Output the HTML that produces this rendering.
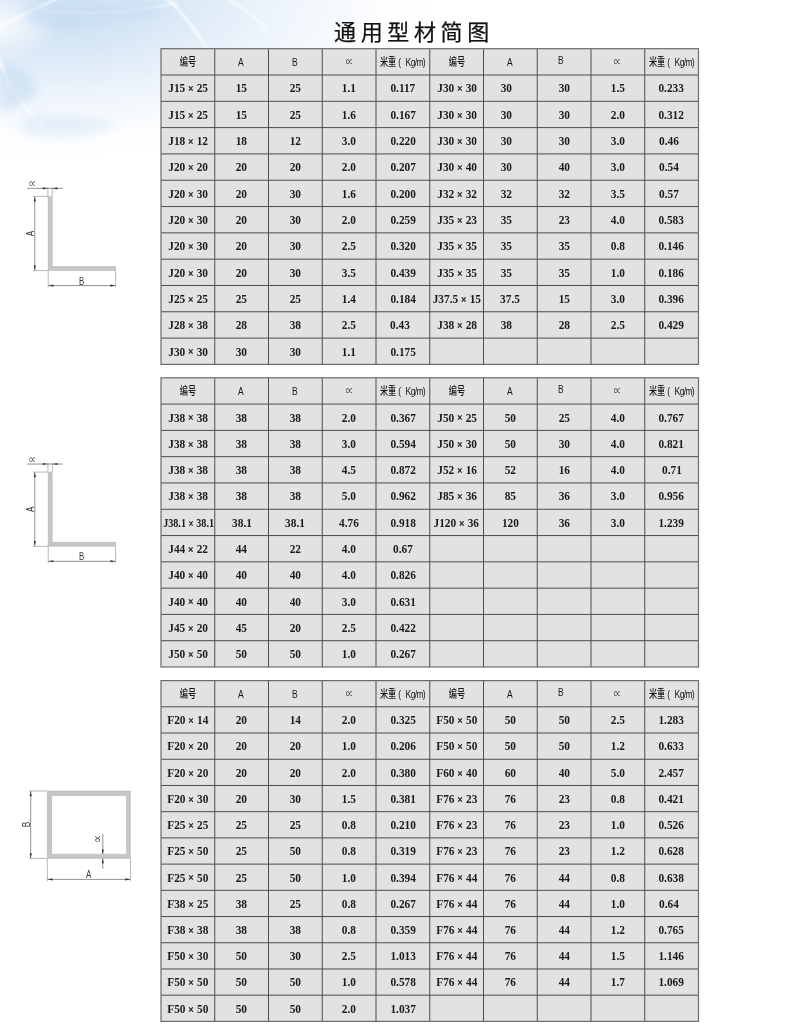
<!DOCTYPE html>
<html lang="zh-CN">
<head>
<meta charset="utf-8">
<title>通用型材简图</title>
<style>
html,body{margin:0;padding:0}
body{width:800px;height:1025px;position:relative;overflow:hidden;background:#fff;font-family:"Liberation Sans","Noto Sans CJK SC",sans-serif}
#bg{position:absolute;left:0;top:0;width:800px;height:1025px;
background:
radial-gradient(ellipse 60px 40px at 0px 24px, rgba(255,255,255,.85) 0%, rgba(255,255,255,0) 100%),
radial-gradient(ellipse 400px 160px at 40px 0px, rgba(205,224,243,1) 0%, rgba(213,229,245,.95) 30%, rgba(230,240,250,.7) 60%, rgba(244,248,253,.4) 82%, rgba(255,255,255,0) 100%);}
#g{position:absolute;left:0;top:0}
h1{position:absolute;left:334px;top:16.5px;margin:0;font-weight:400;font-size:22px;line-height:32px;letter-spacing:4.65px;color:#111;-webkit-text-stroke:.25px #111;white-space:nowrap;font-family:"Liberation Sans","Noto Sans CJK SC",sans-serif}
.c{position:absolute;display:flex;justify-content:center;white-space:nowrap;color:#1a1a1a}
.c span{display:block;position:relative;flex:none}
.d{font-family:"Liberation Serif","Noto Serif CJK SC",serif;font-weight:700;font-size:12.6px}
.d span{transform:scaleX(0.9)}
.d i{font-style:normal;font-size:10.8px;white-space:pre;letter-spacing:.4px;position:relative;top:-.1px;-webkit-text-stroke:.35px #1a1a1a}
.h{font-family:"Liberation Sans","Noto Sans CJK SC",sans-serif;font-size:11.5px;color:#161616;font-weight:500}
.h span{transform:scaleX(0.74)}
.h b{font-weight:500;font-size:11px}
.h u{text-decoration:none;white-space:pre;letter-spacing:-.4px}
.h em{font-style:normal;letter-spacing:-.9px;margin-left:6.5px}
.al{font-size:11px;color:#333;font-weight:400}
.al span{transform:scaleX(.68)}
.ft{font-family:"Liberation Sans","Noto Sans CJK SC",sans-serif;fill:#3a3a3a}
</style>
</head>
<body>
<div id="bg"></div>
<svg id="g" width="800" height="1025" viewBox="0 0 800 1025">
<defs><filter id="bl" x="-20%" y="-20%" width="140%" height="140%"><feGaussianBlur stdDeviation="1.1"/></filter><filter id="bl2" x="-30%" y="-30%" width="160%" height="160%"><feGaussianBlur stdDeviation="4"/></filter></defs>
<g filter="url(#bl)" fill="none" stroke="#fff" stroke-linecap="round">
<path d="M-5 50C8 88 32 122 66 146" stroke-width="3" opacity=".8"/>
<path d="M64 -5C38 8 14 18 -5 30" stroke-width="3" opacity=".7"/>
<path d="M40 10C82 16 130 13 178 3" stroke-width="2" opacity=".6"/>
<path d="M166 -3C184 14 198 32 208 52" stroke-width="2.6" opacity=".75"/>
<path d="M226 -3C244 8 258 19 268 31" stroke-width="2.2" opacity=".65"/>
<path d="M-3 128C36 136 80 138 124 135" stroke-width="2" opacity=".5"/>
<path d="M-3 60C6 70 10 84 6 98" stroke-width="5" opacity=".45"/>
</g>
<g filter="url(#bl2)" fill="#c6dcf2" opacity=".6">
<path d="M22 8C40 2 70 6 96 4C120 6 150 2 162 8C150 20 120 18 100 26C80 34 50 30 34 24Z"/>
<path d="M0 66C14 64 30 74 38 88C30 104 10 112 0 108Z"/><path d="M20 118C50 112 90 116 118 124C100 138 50 140 24 134Z" opacity=".6"/>
</g>
<rect x="161" y="48.7" width="537.5" height="315.7" fill="#e2e2e2"/>
<path d="M161 75.01H698.5M161 101.32H698.5M161 127.62H698.5M161 153.93H698.5M161 180.24H698.5M161 206.55H698.5M161 232.86H698.5M161 259.17H698.5M161 285.48H698.5M161 311.78H698.5M161 338.09H698.5M214.75 48.7V364.4M268.5 48.7V364.4M322.25 48.7V364.4M376 48.7V364.4M429.75 48.7V364.4M483.5 48.7V364.4M537.25 48.7V364.4M591 48.7V364.4M644.75 48.7V364.4" stroke="#4c4c4c" stroke-width="1.0" fill="none"/>
<rect x="161" y="48.7" width="537.5" height="315.7" fill="none" stroke="#6c6c6c" stroke-width="1.2"/>
<rect x="161" y="377.8" width="537.5" height="289.2" fill="#e2e2e2"/>
<path d="M161 404.09H698.5M161 430.38H698.5M161 456.67H698.5M161 482.96H698.5M161 509.25H698.5M161 535.55H698.5M161 561.84H698.5M161 588.13H698.5M161 614.42H698.5M161 640.71H698.5M214.75 377.8V667M268.5 377.8V667M322.25 377.8V667M376 377.8V667M429.75 377.8V667M483.5 377.8V667M537.25 377.8V667M591 377.8V667M644.75 377.8V667" stroke="#4c4c4c" stroke-width="1.0" fill="none"/>
<rect x="161" y="377.8" width="537.5" height="289.2" fill="none" stroke="#6c6c6c" stroke-width="1.2"/>
<rect x="161" y="680.6" width="537.5" height="340.8" fill="#e2e2e2"/>
<path d="M161 706.82H698.5M161 733.03H698.5M161 759.25H698.5M161 785.46H698.5M161 811.68H698.5M161 837.89H698.5M161 864.11H698.5M161 890.32H698.5M161 916.54H698.5M161 942.75H698.5M161 968.97H698.5M161 995.18H698.5M214.75 680.6V1021.4M268.5 680.6V1021.4M322.25 680.6V1021.4M376 680.6V1021.4M429.75 680.6V1021.4M483.5 680.6V1021.4M537.25 680.6V1021.4M591 680.6V1021.4M644.75 680.6V1021.4" stroke="#4c4c4c" stroke-width="1.0" fill="none"/>
<rect x="161" y="680.6" width="537.5" height="340.8" fill="none" stroke="#6c6c6c" stroke-width="1.2"/>
<path d="M48.2 196.4 H52.2 V266.6 H115.6 V270.6 H48.2 Z" fill="#c6c6c6" stroke="#adadad" stroke-width="0.5"/><path d="M47.9 187.2V196.2M52.3 187.2V196.2M33 196.4H48M33 270.6H48M48.2 270.8V287.2M115.6 270.8V287.2" stroke="#9a9a9a" stroke-width="0.7" fill="none"/><path d="M27.2 188.35H62.8M34.8 196.6V270.4M48.4 285.6H115.4" stroke="#555" stroke-width="0.65" fill="none"/><path d="M47.6 188.35L42.8 187.3L42.8 189.4ZM52.7 188.35L57.5 187.3L57.5 189.4ZM34.8 196.6L33.75 201.6L35.85 201.6ZM34.8 270.4L33.75 265.4L35.85 265.4ZM48.4 285.6L53.4 284.55L53.4 286.65ZM115.4 285.6L110.4 284.55L110.4 286.65Z" fill="#333"/><text class="ft" transform="translate(32.6 188.3) scale(0.62 1)" font-size="11" text-anchor="middle">∝</text><text class="ft" transform="translate(34 233.6) rotate(-90) scale(0.72 1)" font-size="11.4" text-anchor="middle">A</text><text class="ft" transform="translate(81.7 284.5) scale(0.68 1)" font-size="11.6" text-anchor="middle">B</text>
<path d="M48.2 472.1 H52.2 V542.3 H115.6 V546.3 H48.2 Z" fill="#c6c6c6" stroke="#adadad" stroke-width="0.5"/><path d="M47.9 462.9V471.9M52.3 462.9V471.9M33 472.1H48M33 546.3H48M48.2 546.5V562.9M115.6 546.5V562.9" stroke="#9a9a9a" stroke-width="0.7" fill="none"/><path d="M27.2 464.05H62.8M34.8 472.3V546.1M48.4 561.3H115.4" stroke="#555" stroke-width="0.65" fill="none"/><path d="M47.6 464.05L42.8 463L42.8 465.1ZM52.7 464.05L57.5 463L57.5 465.1ZM34.8 472.3L33.75 477.3L35.85 477.3ZM34.8 546.1L33.75 541.1L35.85 541.1ZM48.4 561.3L53.4 560.25L53.4 562.35ZM115.4 561.3L110.4 560.25L110.4 562.35Z" fill="#333"/><text class="ft" transform="translate(32.6 464) scale(0.62 1)" font-size="11" text-anchor="middle">∝</text><text class="ft" transform="translate(34 509.3) rotate(-90) scale(0.72 1)" font-size="11.4" text-anchor="middle">A</text><text class="ft" transform="translate(81.7 560.2) scale(0.68 1)" font-size="11.6" text-anchor="middle">B</text>
<path d="M47.3 791H130.4V858.4H47.3ZM51.6 795.4V854.2H126.6V795.4Z" fill="#c6c6c6" fill-rule="evenodd" stroke="#adadad" stroke-width="0.5"/><path d="M29 791H47M29 858.4H47M47.3 858.6V881.2M130.5 858.6V881.2" stroke="#9a9a9a" stroke-width="0.7" fill="none"/><path d="M30.7 791.2V858.2M47.5 879.4H130.3M102.8 833.9V854M102.8 858.6V868.9" stroke="#555" stroke-width="0.65" fill="none"/><path d="M30.7 791.2L29.65 796.2L31.75 796.2ZM30.7 858.2L29.65 853.2L31.75 853.2ZM47.5 879.4L52.5 878.35L52.5 880.45ZM130.3 879.4L125.3 878.35L125.3 880.45ZM102.8 854.2L101.75 849.4L103.85 849.4ZM102.8 858.4L101.75 863.2L103.85 863.2Z" fill="#333"/><text class="ft" transform="translate(29.8 824.6) rotate(-90) scale(0.72 1)" font-size="11.4" text-anchor="middle">B</text><text class="ft" transform="translate(88.6 878.2) scale(0.7 1)" font-size="11.4" text-anchor="middle">A</text><text class="ft" transform="translate(101.8 838.4) rotate(-90) scale(0.62 1)" font-size="11" text-anchor="middle">∝</text>
</svg>
<h1>通用型材简图</h1>
<div class="c h" style="left:161px;top:49.2px;width:53.75px;height:26.31px;line-height:26.31px"><span style=""><b>编号</b></span></div>
<div class="c h" style="left:214.75px;top:49.2px;width:53.75px;height:26.31px;line-height:26.31px"><span style="left:-.4px;">A</span></div>
<div class="c h" style="left:268.5px;top:49.2px;width:53.75px;height:26.31px;line-height:26.31px"><span style="left:-.8px;">B</span></div>
<div class="c h al" style="left:322.25px;top:49.2px;width:53.75px;height:26.31px;line-height:26.31px"><span style="">∝</span></div>
<div class="c h" style="left:376px;top:49.2px;width:53.75px;height:26.31px;line-height:26.31px"><span style=""><b>米重</b><u> (</u><em>Kg/m)</em></span></div>
<div class="c d" style="left:161px;top:75.46px;width:53.75px;height:26.31px;line-height:26.31px"><span style="">J15<i> × </i>25</span></div>
<div class="c d" style="left:214.75px;top:75.46px;width:53.75px;height:26.31px;line-height:26.31px"><span style="">15</span></div>
<div class="c d" style="left:268.5px;top:75.46px;width:53.75px;height:26.31px;line-height:26.31px"><span style="">25</span></div>
<div class="c d" style="left:322.25px;top:75.46px;width:53.75px;height:26.31px;line-height:26.31px"><span style="">1.1</span></div>
<div class="c d" style="left:376px;top:75.46px;width:53.75px;height:26.31px;line-height:26.31px"><span style="">0.117</span></div>
<div class="c d" style="left:161px;top:101.77px;width:53.75px;height:26.31px;line-height:26.31px"><span style="">J15<i> × </i>25</span></div>
<div class="c d" style="left:214.75px;top:101.77px;width:53.75px;height:26.31px;line-height:26.31px"><span style="">15</span></div>
<div class="c d" style="left:268.5px;top:101.77px;width:53.75px;height:26.31px;line-height:26.31px"><span style="">25</span></div>
<div class="c d" style="left:322.25px;top:101.77px;width:53.75px;height:26.31px;line-height:26.31px"><span style="">1.6</span></div>
<div class="c d" style="left:376px;top:101.77px;width:53.75px;height:26.31px;line-height:26.31px"><span style="">0.167</span></div>
<div class="c d" style="left:161px;top:128.07px;width:53.75px;height:26.31px;line-height:26.31px"><span style="">J18<i> × </i>12</span></div>
<div class="c d" style="left:214.75px;top:128.07px;width:53.75px;height:26.31px;line-height:26.31px"><span style="">18</span></div>
<div class="c d" style="left:268.5px;top:128.07px;width:53.75px;height:26.31px;line-height:26.31px"><span style="">12</span></div>
<div class="c d" style="left:322.25px;top:128.07px;width:53.75px;height:26.31px;line-height:26.31px"><span style="">3.0</span></div>
<div class="c d" style="left:376px;top:128.07px;width:53.75px;height:26.31px;line-height:26.31px"><span style="">0.220</span></div>
<div class="c d" style="left:161px;top:154.38px;width:53.75px;height:26.31px;line-height:26.31px"><span style="">J20<i> × </i>20</span></div>
<div class="c d" style="left:214.75px;top:154.38px;width:53.75px;height:26.31px;line-height:26.31px"><span style="">20</span></div>
<div class="c d" style="left:268.5px;top:154.38px;width:53.75px;height:26.31px;line-height:26.31px"><span style="">20</span></div>
<div class="c d" style="left:322.25px;top:154.38px;width:53.75px;height:26.31px;line-height:26.31px"><span style="">2.0</span></div>
<div class="c d" style="left:376px;top:154.38px;width:53.75px;height:26.31px;line-height:26.31px"><span style="">0.207</span></div>
<div class="c d" style="left:161px;top:180.69px;width:53.75px;height:26.31px;line-height:26.31px"><span style="">J20<i> × </i>30</span></div>
<div class="c d" style="left:214.75px;top:180.69px;width:53.75px;height:26.31px;line-height:26.31px"><span style="">20</span></div>
<div class="c d" style="left:268.5px;top:180.69px;width:53.75px;height:26.31px;line-height:26.31px"><span style="">30</span></div>
<div class="c d" style="left:322.25px;top:180.69px;width:53.75px;height:26.31px;line-height:26.31px"><span style="">1.6</span></div>
<div class="c d" style="left:376px;top:180.69px;width:53.75px;height:26.31px;line-height:26.31px"><span style="">0.200</span></div>
<div class="c d" style="left:161px;top:207px;width:53.75px;height:26.31px;line-height:26.31px"><span style="">J20<i> × </i>30</span></div>
<div class="c d" style="left:214.75px;top:207px;width:53.75px;height:26.31px;line-height:26.31px"><span style="">20</span></div>
<div class="c d" style="left:268.5px;top:207px;width:53.75px;height:26.31px;line-height:26.31px"><span style="">30</span></div>
<div class="c d" style="left:322.25px;top:207px;width:53.75px;height:26.31px;line-height:26.31px"><span style="">2.0</span></div>
<div class="c d" style="left:376px;top:207px;width:53.75px;height:26.31px;line-height:26.31px"><span style="">0.259</span></div>
<div class="c d" style="left:161px;top:233.31px;width:53.75px;height:26.31px;line-height:26.31px"><span style="">J20<i> × </i>30</span></div>
<div class="c d" style="left:214.75px;top:233.31px;width:53.75px;height:26.31px;line-height:26.31px"><span style="">20</span></div>
<div class="c d" style="left:268.5px;top:233.31px;width:53.75px;height:26.31px;line-height:26.31px"><span style="">30</span></div>
<div class="c d" style="left:322.25px;top:233.31px;width:53.75px;height:26.31px;line-height:26.31px"><span style="">2.5</span></div>
<div class="c d" style="left:376px;top:233.31px;width:53.75px;height:26.31px;line-height:26.31px"><span style="">0.320</span></div>
<div class="c d" style="left:161px;top:259.62px;width:53.75px;height:26.31px;line-height:26.31px"><span style="">J20<i> × </i>30</span></div>
<div class="c d" style="left:214.75px;top:259.62px;width:53.75px;height:26.31px;line-height:26.31px"><span style="">20</span></div>
<div class="c d" style="left:268.5px;top:259.62px;width:53.75px;height:26.31px;line-height:26.31px"><span style="">30</span></div>
<div class="c d" style="left:322.25px;top:259.62px;width:53.75px;height:26.31px;line-height:26.31px"><span style="">3.5</span></div>
<div class="c d" style="left:376px;top:259.62px;width:53.75px;height:26.31px;line-height:26.31px"><span style="">0.439</span></div>
<div class="c d" style="left:161px;top:285.93px;width:53.75px;height:26.31px;line-height:26.31px"><span style="">J25<i> × </i>25</span></div>
<div class="c d" style="left:214.75px;top:285.93px;width:53.75px;height:26.31px;line-height:26.31px"><span style="">25</span></div>
<div class="c d" style="left:268.5px;top:285.93px;width:53.75px;height:26.31px;line-height:26.31px"><span style="">25</span></div>
<div class="c d" style="left:322.25px;top:285.93px;width:53.75px;height:26.31px;line-height:26.31px"><span style="">1.4</span></div>
<div class="c d" style="left:376px;top:285.93px;width:53.75px;height:26.31px;line-height:26.31px"><span style="">0.184</span></div>
<div class="c d" style="left:161px;top:312.23px;width:53.75px;height:26.31px;line-height:26.31px"><span style="">J28<i> × </i>38</span></div>
<div class="c d" style="left:214.75px;top:312.23px;width:53.75px;height:26.31px;line-height:26.31px"><span style="">28</span></div>
<div class="c d" style="left:268.5px;top:312.23px;width:53.75px;height:26.31px;line-height:26.31px"><span style="">38</span></div>
<div class="c d" style="left:322.25px;top:312.23px;width:53.75px;height:26.31px;line-height:26.31px"><span style="">2.5</span></div>
<div class="c d" style="left:376px;top:312.23px;width:53.75px;height:26.31px;line-height:26.31px"><span style="left:-2.9px;">0.43</span></div>
<div class="c d" style="left:161px;top:338.54px;width:53.75px;height:26.31px;line-height:26.31px"><span style="">J30<i> × </i>30</span></div>
<div class="c d" style="left:214.75px;top:338.54px;width:53.75px;height:26.31px;line-height:26.31px"><span style="">30</span></div>
<div class="c d" style="left:268.5px;top:338.54px;width:53.75px;height:26.31px;line-height:26.31px"><span style="">30</span></div>
<div class="c d" style="left:322.25px;top:338.54px;width:53.75px;height:26.31px;line-height:26.31px"><span style="">1.1</span></div>
<div class="c d" style="left:376px;top:338.54px;width:53.75px;height:26.31px;line-height:26.31px"><span style="">0.175</span></div>
<div class="c h" style="left:429.75px;top:49.2px;width:53.75px;height:26.31px;line-height:26.31px"><span style=""><b>编号</b></span></div>
<div class="c h" style="left:483.5px;top:49.2px;width:53.75px;height:26.31px;line-height:26.31px"><span style="left:-.4px;">A</span></div>
<div class="c h" style="left:537.25px;top:47.2px;width:53.75px;height:26.31px;line-height:26.31px"><span style="left:-3.4px;">B</span></div>
<div class="c h al" style="left:591px;top:49.2px;width:53.75px;height:26.31px;line-height:26.31px"><span style="">∝</span></div>
<div class="c h" style="left:644.75px;top:49.2px;width:53.75px;height:26.31px;line-height:26.31px"><span style=""><b>米重</b><u> (</u><em>Kg/m)</em></span></div>
<div class="c d" style="left:429.75px;top:75.46px;width:53.75px;height:26.31px;line-height:26.31px"><span style="">J30<i> × </i>30</span></div>
<div class="c d" style="left:483.5px;top:75.46px;width:53.75px;height:26.31px;line-height:26.31px"><span style="left:-4.5px;">30</span></div>
<div class="c d" style="left:537.25px;top:75.46px;width:53.75px;height:26.31px;line-height:26.31px"><span style="">30</span></div>
<div class="c d" style="left:591px;top:75.46px;width:53.75px;height:26.31px;line-height:26.31px"><span style="">1.5</span></div>
<div class="c d" style="left:644.75px;top:75.46px;width:53.75px;height:26.31px;line-height:26.31px"><span style="">0.233</span></div>
<div class="c d" style="left:429.75px;top:101.77px;width:53.75px;height:26.31px;line-height:26.31px"><span style="">J30<i> × </i>30</span></div>
<div class="c d" style="left:483.5px;top:101.77px;width:53.75px;height:26.31px;line-height:26.31px"><span style="left:-4.5px;">30</span></div>
<div class="c d" style="left:537.25px;top:101.77px;width:53.75px;height:26.31px;line-height:26.31px"><span style="">30</span></div>
<div class="c d" style="left:591px;top:101.77px;width:53.75px;height:26.31px;line-height:26.31px"><span style="">2.0</span></div>
<div class="c d" style="left:644.75px;top:101.77px;width:53.75px;height:26.31px;line-height:26.31px"><span style="">0.312</span></div>
<div class="c d" style="left:429.75px;top:128.07px;width:53.75px;height:26.31px;line-height:26.31px"><span style="">J30<i> × </i>30</span></div>
<div class="c d" style="left:483.5px;top:128.07px;width:53.75px;height:26.31px;line-height:26.31px"><span style="left:-4.5px;">30</span></div>
<div class="c d" style="left:537.25px;top:128.07px;width:53.75px;height:26.31px;line-height:26.31px"><span style="">30</span></div>
<div class="c d" style="left:591px;top:128.07px;width:53.75px;height:26.31px;line-height:26.31px"><span style="">3.0</span></div>
<div class="c d" style="left:644.75px;top:128.07px;width:53.75px;height:26.31px;line-height:26.31px"><span style="left:-2.9px;">0.46</span></div>
<div class="c d" style="left:429.75px;top:154.38px;width:53.75px;height:26.31px;line-height:26.31px"><span style="">J30<i> × </i>40</span></div>
<div class="c d" style="left:483.5px;top:154.38px;width:53.75px;height:26.31px;line-height:26.31px"><span style="left:-4.5px;">30</span></div>
<div class="c d" style="left:537.25px;top:154.38px;width:53.75px;height:26.31px;line-height:26.31px"><span style="">40</span></div>
<div class="c d" style="left:591px;top:154.38px;width:53.75px;height:26.31px;line-height:26.31px"><span style="">3.0</span></div>
<div class="c d" style="left:644.75px;top:154.38px;width:53.75px;height:26.31px;line-height:26.31px"><span style="left:-2.9px;">0.54</span></div>
<div class="c d" style="left:429.75px;top:180.69px;width:53.75px;height:26.31px;line-height:26.31px"><span style="">J32<i> × </i>32</span></div>
<div class="c d" style="left:483.5px;top:180.69px;width:53.75px;height:26.31px;line-height:26.31px"><span style="left:-4.5px;">32</span></div>
<div class="c d" style="left:537.25px;top:180.69px;width:53.75px;height:26.31px;line-height:26.31px"><span style="">32</span></div>
<div class="c d" style="left:591px;top:180.69px;width:53.75px;height:26.31px;line-height:26.31px"><span style="">3.5</span></div>
<div class="c d" style="left:644.75px;top:180.69px;width:53.75px;height:26.31px;line-height:26.31px"><span style="left:-2.9px;">0.57</span></div>
<div class="c d" style="left:429.75px;top:207px;width:53.75px;height:26.31px;line-height:26.31px"><span style="">J35<i> × </i>23</span></div>
<div class="c d" style="left:483.5px;top:207px;width:53.75px;height:26.31px;line-height:26.31px"><span style="left:-4.5px;">35</span></div>
<div class="c d" style="left:537.25px;top:207px;width:53.75px;height:26.31px;line-height:26.31px"><span style="">23</span></div>
<div class="c d" style="left:591px;top:207px;width:53.75px;height:26.31px;line-height:26.31px"><span style="">4.0</span></div>
<div class="c d" style="left:644.75px;top:207px;width:53.75px;height:26.31px;line-height:26.31px"><span style="">0.583</span></div>
<div class="c d" style="left:429.75px;top:233.31px;width:53.75px;height:26.31px;line-height:26.31px"><span style="">J35<i> × </i>35</span></div>
<div class="c d" style="left:483.5px;top:233.31px;width:53.75px;height:26.31px;line-height:26.31px"><span style="left:-4.5px;">35</span></div>
<div class="c d" style="left:537.25px;top:233.31px;width:53.75px;height:26.31px;line-height:26.31px"><span style="">35</span></div>
<div class="c d" style="left:591px;top:233.31px;width:53.75px;height:26.31px;line-height:26.31px"><span style="">0.8</span></div>
<div class="c d" style="left:644.75px;top:233.31px;width:53.75px;height:26.31px;line-height:26.31px"><span style="">0.146</span></div>
<div class="c d" style="left:429.75px;top:259.62px;width:53.75px;height:26.31px;line-height:26.31px"><span style="">J35<i> × </i>35</span></div>
<div class="c d" style="left:483.5px;top:259.62px;width:53.75px;height:26.31px;line-height:26.31px"><span style="left:-4.5px;">35</span></div>
<div class="c d" style="left:537.25px;top:259.62px;width:53.75px;height:26.31px;line-height:26.31px"><span style="">35</span></div>
<div class="c d" style="left:591px;top:259.62px;width:53.75px;height:26.31px;line-height:26.31px"><span style="">1.0</span></div>
<div class="c d" style="left:644.75px;top:259.62px;width:53.75px;height:26.31px;line-height:26.31px"><span style="">0.186</span></div>
<div class="c d" style="left:429.75px;top:285.93px;width:53.75px;height:26.31px;line-height:26.31px"><span style="">J37.5<i> × </i>15</span></div>
<div class="c d" style="left:483.5px;top:285.93px;width:53.75px;height:26.31px;line-height:26.31px"><span style="">37.5</span></div>
<div class="c d" style="left:537.25px;top:285.93px;width:53.75px;height:26.31px;line-height:26.31px"><span style="">15</span></div>
<div class="c d" style="left:591px;top:285.93px;width:53.75px;height:26.31px;line-height:26.31px"><span style="">3.0</span></div>
<div class="c d" style="left:644.75px;top:285.93px;width:53.75px;height:26.31px;line-height:26.31px"><span style="">0.396</span></div>
<div class="c d" style="left:429.75px;top:312.23px;width:53.75px;height:26.31px;line-height:26.31px"><span style="">J38<i> × </i>28</span></div>
<div class="c d" style="left:483.5px;top:312.23px;width:53.75px;height:26.31px;line-height:26.31px"><span style="left:-4.5px;">38</span></div>
<div class="c d" style="left:537.25px;top:312.23px;width:53.75px;height:26.31px;line-height:26.31px"><span style="">28</span></div>
<div class="c d" style="left:591px;top:312.23px;width:53.75px;height:26.31px;line-height:26.31px"><span style="">2.5</span></div>
<div class="c d" style="left:644.75px;top:312.23px;width:53.75px;height:26.31px;line-height:26.31px"><span style="">0.429</span></div>
<div class="c h" style="left:161px;top:378.3px;width:53.75px;height:26.29px;line-height:26.29px"><span style=""><b>编号</b></span></div>
<div class="c h" style="left:214.75px;top:378.3px;width:53.75px;height:26.29px;line-height:26.29px"><span style="left:-.4px;">A</span></div>
<div class="c h" style="left:268.5px;top:378.3px;width:53.75px;height:26.29px;line-height:26.29px"><span style="left:-.8px;">B</span></div>
<div class="c h al" style="left:322.25px;top:378.3px;width:53.75px;height:26.29px;line-height:26.29px"><span style="">∝</span></div>
<div class="c h" style="left:376px;top:378.3px;width:53.75px;height:26.29px;line-height:26.29px"><span style=""><b>米重</b><u> (</u><em>Kg/m)</em></span></div>
<div class="c d" style="left:161px;top:404.54px;width:53.75px;height:26.29px;line-height:26.29px"><span style="">J38<i> × </i>38</span></div>
<div class="c d" style="left:214.75px;top:404.54px;width:53.75px;height:26.29px;line-height:26.29px"><span style="">38</span></div>
<div class="c d" style="left:268.5px;top:404.54px;width:53.75px;height:26.29px;line-height:26.29px"><span style="">38</span></div>
<div class="c d" style="left:322.25px;top:404.54px;width:53.75px;height:26.29px;line-height:26.29px"><span style="">2.0</span></div>
<div class="c d" style="left:376px;top:404.54px;width:53.75px;height:26.29px;line-height:26.29px"><span style="">0.367</span></div>
<div class="c d" style="left:161px;top:430.83px;width:53.75px;height:26.29px;line-height:26.29px"><span style="">J38<i> × </i>38</span></div>
<div class="c d" style="left:214.75px;top:430.83px;width:53.75px;height:26.29px;line-height:26.29px"><span style="">38</span></div>
<div class="c d" style="left:268.5px;top:430.83px;width:53.75px;height:26.29px;line-height:26.29px"><span style="">38</span></div>
<div class="c d" style="left:322.25px;top:430.83px;width:53.75px;height:26.29px;line-height:26.29px"><span style="">3.0</span></div>
<div class="c d" style="left:376px;top:430.83px;width:53.75px;height:26.29px;line-height:26.29px"><span style="">0.594</span></div>
<div class="c d" style="left:161px;top:457.12px;width:53.75px;height:26.29px;line-height:26.29px"><span style="">J38<i> × </i>38</span></div>
<div class="c d" style="left:214.75px;top:457.12px;width:53.75px;height:26.29px;line-height:26.29px"><span style="">38</span></div>
<div class="c d" style="left:268.5px;top:457.12px;width:53.75px;height:26.29px;line-height:26.29px"><span style="">38</span></div>
<div class="c d" style="left:322.25px;top:457.12px;width:53.75px;height:26.29px;line-height:26.29px"><span style="">4.5</span></div>
<div class="c d" style="left:376px;top:457.12px;width:53.75px;height:26.29px;line-height:26.29px"><span style="">0.872</span></div>
<div class="c d" style="left:161px;top:483.41px;width:53.75px;height:26.29px;line-height:26.29px"><span style="">J38<i> × </i>38</span></div>
<div class="c d" style="left:214.75px;top:483.41px;width:53.75px;height:26.29px;line-height:26.29px"><span style="">38</span></div>
<div class="c d" style="left:268.5px;top:483.41px;width:53.75px;height:26.29px;line-height:26.29px"><span style="">38</span></div>
<div class="c d" style="left:322.25px;top:483.41px;width:53.75px;height:26.29px;line-height:26.29px"><span style="">5.0</span></div>
<div class="c d" style="left:376px;top:483.41px;width:53.75px;height:26.29px;line-height:26.29px"><span style="">0.962</span></div>
<div class="c d" style="left:161px;top:509.7px;width:53.75px;height:26.29px;line-height:26.29px"><span style="transform:scaleX(0.805);left:.6px;">J38.1<i> × </i>38.1</span></div>
<div class="c d" style="left:214.75px;top:509.7px;width:53.75px;height:26.29px;line-height:26.29px"><span style="">38.1</span></div>
<div class="c d" style="left:268.5px;top:509.7px;width:53.75px;height:26.29px;line-height:26.29px"><span style="">38.1</span></div>
<div class="c d" style="left:322.25px;top:509.7px;width:53.75px;height:26.29px;line-height:26.29px"><span style="">4.76</span></div>
<div class="c d" style="left:376px;top:509.7px;width:53.75px;height:26.29px;line-height:26.29px"><span style="">0.918</span></div>
<div class="c d" style="left:161px;top:536px;width:53.75px;height:26.29px;line-height:26.29px"><span style="">J44<i> × </i>22</span></div>
<div class="c d" style="left:214.75px;top:536px;width:53.75px;height:26.29px;line-height:26.29px"><span style="">44</span></div>
<div class="c d" style="left:268.5px;top:536px;width:53.75px;height:26.29px;line-height:26.29px"><span style="">22</span></div>
<div class="c d" style="left:322.25px;top:536px;width:53.75px;height:26.29px;line-height:26.29px"><span style="">4.0</span></div>
<div class="c d" style="left:376px;top:536px;width:53.75px;height:26.29px;line-height:26.29px"><span style="">0.67</span></div>
<div class="c d" style="left:161px;top:562.29px;width:53.75px;height:26.29px;line-height:26.29px"><span style="">J40<i> × </i>40</span></div>
<div class="c d" style="left:214.75px;top:562.29px;width:53.75px;height:26.29px;line-height:26.29px"><span style="">40</span></div>
<div class="c d" style="left:268.5px;top:562.29px;width:53.75px;height:26.29px;line-height:26.29px"><span style="">40</span></div>
<div class="c d" style="left:322.25px;top:562.29px;width:53.75px;height:26.29px;line-height:26.29px"><span style="">4.0</span></div>
<div class="c d" style="left:376px;top:562.29px;width:53.75px;height:26.29px;line-height:26.29px"><span style="">0.826</span></div>
<div class="c d" style="left:161px;top:588.58px;width:53.75px;height:26.29px;line-height:26.29px"><span style="">J40<i> × </i>40</span></div>
<div class="c d" style="left:214.75px;top:588.58px;width:53.75px;height:26.29px;line-height:26.29px"><span style="">40</span></div>
<div class="c d" style="left:268.5px;top:588.58px;width:53.75px;height:26.29px;line-height:26.29px"><span style="">40</span></div>
<div class="c d" style="left:322.25px;top:588.58px;width:53.75px;height:26.29px;line-height:26.29px"><span style="">3.0</span></div>
<div class="c d" style="left:376px;top:588.58px;width:53.75px;height:26.29px;line-height:26.29px"><span style="">0.631</span></div>
<div class="c d" style="left:161px;top:614.87px;width:53.75px;height:26.29px;line-height:26.29px"><span style="">J45<i> × </i>20</span></div>
<div class="c d" style="left:214.75px;top:614.87px;width:53.75px;height:26.29px;line-height:26.29px"><span style="">45</span></div>
<div class="c d" style="left:268.5px;top:614.87px;width:53.75px;height:26.29px;line-height:26.29px"><span style="">20</span></div>
<div class="c d" style="left:322.25px;top:614.87px;width:53.75px;height:26.29px;line-height:26.29px"><span style="">2.5</span></div>
<div class="c d" style="left:376px;top:614.87px;width:53.75px;height:26.29px;line-height:26.29px"><span style="">0.422</span></div>
<div class="c d" style="left:161px;top:641.16px;width:53.75px;height:26.29px;line-height:26.29px"><span style="">J50<i> × </i>50</span></div>
<div class="c d" style="left:214.75px;top:641.16px;width:53.75px;height:26.29px;line-height:26.29px"><span style="">50</span></div>
<div class="c d" style="left:268.5px;top:641.16px;width:53.75px;height:26.29px;line-height:26.29px"><span style="">50</span></div>
<div class="c d" style="left:322.25px;top:641.16px;width:53.75px;height:26.29px;line-height:26.29px"><span style="">1.0</span></div>
<div class="c d" style="left:376px;top:641.16px;width:53.75px;height:26.29px;line-height:26.29px"><span style="">0.267</span></div>
<div class="c h" style="left:429.75px;top:378.3px;width:53.75px;height:26.29px;line-height:26.29px"><span style=""><b>编号</b></span></div>
<div class="c h" style="left:483.5px;top:378.3px;width:53.75px;height:26.29px;line-height:26.29px"><span style="left:-.4px;">A</span></div>
<div class="c h" style="left:537.25px;top:376.3px;width:53.75px;height:26.29px;line-height:26.29px"><span style="left:-3.4px;">B</span></div>
<div class="c h al" style="left:591px;top:378.3px;width:53.75px;height:26.29px;line-height:26.29px"><span style="">∝</span></div>
<div class="c h" style="left:644.75px;top:378.3px;width:53.75px;height:26.29px;line-height:26.29px"><span style=""><b>米重</b><u> (</u><em>Kg/m)</em></span></div>
<div class="c d" style="left:429.75px;top:404.54px;width:53.75px;height:26.29px;line-height:26.29px"><span style="">J50<i> × </i>25</span></div>
<div class="c d" style="left:483.5px;top:404.54px;width:53.75px;height:26.29px;line-height:26.29px"><span style="">50</span></div>
<div class="c d" style="left:537.25px;top:404.54px;width:53.75px;height:26.29px;line-height:26.29px"><span style="">25</span></div>
<div class="c d" style="left:591px;top:404.54px;width:53.75px;height:26.29px;line-height:26.29px"><span style="">4.0</span></div>
<div class="c d" style="left:644.75px;top:404.54px;width:53.75px;height:26.29px;line-height:26.29px"><span style="">0.767</span></div>
<div class="c d" style="left:429.75px;top:430.83px;width:53.75px;height:26.29px;line-height:26.29px"><span style="">J50<i> × </i>30</span></div>
<div class="c d" style="left:483.5px;top:430.83px;width:53.75px;height:26.29px;line-height:26.29px"><span style="">50</span></div>
<div class="c d" style="left:537.25px;top:430.83px;width:53.75px;height:26.29px;line-height:26.29px"><span style="">30</span></div>
<div class="c d" style="left:591px;top:430.83px;width:53.75px;height:26.29px;line-height:26.29px"><span style="">4.0</span></div>
<div class="c d" style="left:644.75px;top:430.83px;width:53.75px;height:26.29px;line-height:26.29px"><span style="">0.821</span></div>
<div class="c d" style="left:429.75px;top:457.12px;width:53.75px;height:26.29px;line-height:26.29px"><span style="">J52<i> × </i>16</span></div>
<div class="c d" style="left:483.5px;top:457.12px;width:53.75px;height:26.29px;line-height:26.29px"><span style="">52</span></div>
<div class="c d" style="left:537.25px;top:457.12px;width:53.75px;height:26.29px;line-height:26.29px"><span style="">16</span></div>
<div class="c d" style="left:591px;top:457.12px;width:53.75px;height:26.29px;line-height:26.29px"><span style="">4.0</span></div>
<div class="c d" style="left:644.75px;top:457.12px;width:53.75px;height:26.29px;line-height:26.29px"><span style="">0.71</span></div>
<div class="c d" style="left:429.75px;top:483.41px;width:53.75px;height:26.29px;line-height:26.29px"><span style="">J85<i> × </i>36</span></div>
<div class="c d" style="left:483.5px;top:483.41px;width:53.75px;height:26.29px;line-height:26.29px"><span style="">85</span></div>
<div class="c d" style="left:537.25px;top:483.41px;width:53.75px;height:26.29px;line-height:26.29px"><span style="">36</span></div>
<div class="c d" style="left:591px;top:483.41px;width:53.75px;height:26.29px;line-height:26.29px"><span style="">3.0</span></div>
<div class="c d" style="left:644.75px;top:483.41px;width:53.75px;height:26.29px;line-height:26.29px"><span style="">0.956</span></div>
<div class="c d" style="left:429.75px;top:509.7px;width:53.75px;height:26.29px;line-height:26.29px"><span style="">J120<i> × </i>36</span></div>
<div class="c d" style="left:483.5px;top:509.7px;width:53.75px;height:26.29px;line-height:26.29px"><span style="">120</span></div>
<div class="c d" style="left:537.25px;top:509.7px;width:53.75px;height:26.29px;line-height:26.29px"><span style="">36</span></div>
<div class="c d" style="left:591px;top:509.7px;width:53.75px;height:26.29px;line-height:26.29px"><span style="">3.0</span></div>
<div class="c d" style="left:644.75px;top:509.7px;width:53.75px;height:26.29px;line-height:26.29px"><span style="">1.239</span></div>
<div class="c h" style="left:161px;top:681.1px;width:53.75px;height:26.22px;line-height:26.22px"><span style=""><b>编号</b></span></div>
<div class="c h" style="left:214.75px;top:681.1px;width:53.75px;height:26.22px;line-height:26.22px"><span style="left:-.4px;">A</span></div>
<div class="c h" style="left:268.5px;top:681.1px;width:53.75px;height:26.22px;line-height:26.22px"><span style="left:-.8px;">B</span></div>
<div class="c h al" style="left:322.25px;top:681.1px;width:53.75px;height:26.22px;line-height:26.22px"><span style="">∝</span></div>
<div class="c h" style="left:376px;top:681.1px;width:53.75px;height:26.22px;line-height:26.22px"><span style=""><b>米重</b><u> (</u><em>Kg/m)</em></span></div>
<div class="c d" style="left:161px;top:707.27px;width:53.75px;height:26.22px;line-height:26.22px"><span style="">F20<i> × </i>14</span></div>
<div class="c d" style="left:214.75px;top:707.27px;width:53.75px;height:26.22px;line-height:26.22px"><span style="">20</span></div>
<div class="c d" style="left:268.5px;top:707.27px;width:53.75px;height:26.22px;line-height:26.22px"><span style="">14</span></div>
<div class="c d" style="left:322.25px;top:707.27px;width:53.75px;height:26.22px;line-height:26.22px"><span style="">2.0</span></div>
<div class="c d" style="left:376px;top:707.27px;width:53.75px;height:26.22px;line-height:26.22px"><span style="">0.325</span></div>
<div class="c d" style="left:161px;top:733.48px;width:53.75px;height:26.22px;line-height:26.22px"><span style="">F20<i> × </i>20</span></div>
<div class="c d" style="left:214.75px;top:733.48px;width:53.75px;height:26.22px;line-height:26.22px"><span style="">20</span></div>
<div class="c d" style="left:268.5px;top:733.48px;width:53.75px;height:26.22px;line-height:26.22px"><span style="">20</span></div>
<div class="c d" style="left:322.25px;top:733.48px;width:53.75px;height:26.22px;line-height:26.22px"><span style="">1.0</span></div>
<div class="c d" style="left:376px;top:733.48px;width:53.75px;height:26.22px;line-height:26.22px"><span style="">0.206</span></div>
<div class="c d" style="left:161px;top:759.7px;width:53.75px;height:26.22px;line-height:26.22px"><span style="">F20<i> × </i>20</span></div>
<div class="c d" style="left:214.75px;top:759.7px;width:53.75px;height:26.22px;line-height:26.22px"><span style="">20</span></div>
<div class="c d" style="left:268.5px;top:759.7px;width:53.75px;height:26.22px;line-height:26.22px"><span style="">20</span></div>
<div class="c d" style="left:322.25px;top:759.7px;width:53.75px;height:26.22px;line-height:26.22px"><span style="">2.0</span></div>
<div class="c d" style="left:376px;top:759.7px;width:53.75px;height:26.22px;line-height:26.22px"><span style="">0.380</span></div>
<div class="c d" style="left:161px;top:785.91px;width:53.75px;height:26.22px;line-height:26.22px"><span style="">F20<i> × </i>30</span></div>
<div class="c d" style="left:214.75px;top:785.91px;width:53.75px;height:26.22px;line-height:26.22px"><span style="">20</span></div>
<div class="c d" style="left:268.5px;top:785.91px;width:53.75px;height:26.22px;line-height:26.22px"><span style="">30</span></div>
<div class="c d" style="left:322.25px;top:785.91px;width:53.75px;height:26.22px;line-height:26.22px"><span style="">1.5</span></div>
<div class="c d" style="left:376px;top:785.91px;width:53.75px;height:26.22px;line-height:26.22px"><span style="">0.381</span></div>
<div class="c d" style="left:161px;top:812.13px;width:53.75px;height:26.22px;line-height:26.22px"><span style="">F25<i> × </i>25</span></div>
<div class="c d" style="left:214.75px;top:812.13px;width:53.75px;height:26.22px;line-height:26.22px"><span style="">25</span></div>
<div class="c d" style="left:268.5px;top:812.13px;width:53.75px;height:26.22px;line-height:26.22px"><span style="">25</span></div>
<div class="c d" style="left:322.25px;top:812.13px;width:53.75px;height:26.22px;line-height:26.22px"><span style="">0.8</span></div>
<div class="c d" style="left:376px;top:812.13px;width:53.75px;height:26.22px;line-height:26.22px"><span style="">0.210</span></div>
<div class="c d" style="left:161px;top:838.34px;width:53.75px;height:26.22px;line-height:26.22px"><span style="">F25<i> × </i>50</span></div>
<div class="c d" style="left:214.75px;top:838.34px;width:53.75px;height:26.22px;line-height:26.22px"><span style="">25</span></div>
<div class="c d" style="left:268.5px;top:838.34px;width:53.75px;height:26.22px;line-height:26.22px"><span style="">50</span></div>
<div class="c d" style="left:322.25px;top:838.34px;width:53.75px;height:26.22px;line-height:26.22px"><span style="">0.8</span></div>
<div class="c d" style="left:376px;top:838.34px;width:53.75px;height:26.22px;line-height:26.22px"><span style="">0.319</span></div>
<div class="c d" style="left:161px;top:864.56px;width:53.75px;height:26.22px;line-height:26.22px"><span style="">F25<i> × </i>50</span></div>
<div class="c d" style="left:214.75px;top:864.56px;width:53.75px;height:26.22px;line-height:26.22px"><span style="">25</span></div>
<div class="c d" style="left:268.5px;top:864.56px;width:53.75px;height:26.22px;line-height:26.22px"><span style="">50</span></div>
<div class="c d" style="left:322.25px;top:864.56px;width:53.75px;height:26.22px;line-height:26.22px"><span style="">1.0</span></div>
<div class="c d" style="left:376px;top:864.56px;width:53.75px;height:26.22px;line-height:26.22px"><span style="">0.394</span></div>
<div class="c d" style="left:161px;top:890.77px;width:53.75px;height:26.22px;line-height:26.22px"><span style="">F38<i> × </i>25</span></div>
<div class="c d" style="left:214.75px;top:890.77px;width:53.75px;height:26.22px;line-height:26.22px"><span style="">38</span></div>
<div class="c d" style="left:268.5px;top:890.77px;width:53.75px;height:26.22px;line-height:26.22px"><span style="">25</span></div>
<div class="c d" style="left:322.25px;top:890.77px;width:53.75px;height:26.22px;line-height:26.22px"><span style="">0.8</span></div>
<div class="c d" style="left:376px;top:890.77px;width:53.75px;height:26.22px;line-height:26.22px"><span style="">0.267</span></div>
<div class="c d" style="left:161px;top:916.99px;width:53.75px;height:26.22px;line-height:26.22px"><span style="">F38<i> × </i>38</span></div>
<div class="c d" style="left:214.75px;top:916.99px;width:53.75px;height:26.22px;line-height:26.22px"><span style="">38</span></div>
<div class="c d" style="left:268.5px;top:916.99px;width:53.75px;height:26.22px;line-height:26.22px"><span style="">38</span></div>
<div class="c d" style="left:322.25px;top:916.99px;width:53.75px;height:26.22px;line-height:26.22px"><span style="">0.8</span></div>
<div class="c d" style="left:376px;top:916.99px;width:53.75px;height:26.22px;line-height:26.22px"><span style="">0.359</span></div>
<div class="c d" style="left:161px;top:943.2px;width:53.75px;height:26.22px;line-height:26.22px"><span style="">F50<i> × </i>30</span></div>
<div class="c d" style="left:214.75px;top:943.2px;width:53.75px;height:26.22px;line-height:26.22px"><span style="">50</span></div>
<div class="c d" style="left:268.5px;top:943.2px;width:53.75px;height:26.22px;line-height:26.22px"><span style="">30</span></div>
<div class="c d" style="left:322.25px;top:943.2px;width:53.75px;height:26.22px;line-height:26.22px"><span style="">2.5</span></div>
<div class="c d" style="left:376px;top:943.2px;width:53.75px;height:26.22px;line-height:26.22px"><span style="">1.013</span></div>
<div class="c d" style="left:161px;top:969.42px;width:53.75px;height:26.22px;line-height:26.22px"><span style="">F50<i> × </i>50</span></div>
<div class="c d" style="left:214.75px;top:969.42px;width:53.75px;height:26.22px;line-height:26.22px"><span style="">50</span></div>
<div class="c d" style="left:268.5px;top:969.42px;width:53.75px;height:26.22px;line-height:26.22px"><span style="">50</span></div>
<div class="c d" style="left:322.25px;top:969.42px;width:53.75px;height:26.22px;line-height:26.22px"><span style="">1.0</span></div>
<div class="c d" style="left:376px;top:969.42px;width:53.75px;height:26.22px;line-height:26.22px"><span style="">0.578</span></div>
<div class="c d" style="left:161px;top:995.63px;width:53.75px;height:26.22px;line-height:26.22px"><span style="">F50<i> × </i>50</span></div>
<div class="c d" style="left:214.75px;top:995.63px;width:53.75px;height:26.22px;line-height:26.22px"><span style="">50</span></div>
<div class="c d" style="left:268.5px;top:995.63px;width:53.75px;height:26.22px;line-height:26.22px"><span style="">50</span></div>
<div class="c d" style="left:322.25px;top:995.63px;width:53.75px;height:26.22px;line-height:26.22px"><span style="">2.0</span></div>
<div class="c d" style="left:376px;top:995.63px;width:53.75px;height:26.22px;line-height:26.22px"><span style="">1.037</span></div>
<div class="c h" style="left:429.75px;top:681.1px;width:53.75px;height:26.22px;line-height:26.22px"><span style=""><b>编号</b></span></div>
<div class="c h" style="left:483.5px;top:681.1px;width:53.75px;height:26.22px;line-height:26.22px"><span style="left:-.4px;">A</span></div>
<div class="c h" style="left:537.25px;top:679.1px;width:53.75px;height:26.22px;line-height:26.22px"><span style="left:-3.4px;">B</span></div>
<div class="c h al" style="left:591px;top:681.1px;width:53.75px;height:26.22px;line-height:26.22px"><span style="">∝</span></div>
<div class="c h" style="left:644.75px;top:681.1px;width:53.75px;height:26.22px;line-height:26.22px"><span style=""><b>米重</b><u> (</u><em>Kg/m)</em></span></div>
<div class="c d" style="left:429.75px;top:707.27px;width:53.75px;height:26.22px;line-height:26.22px"><span style="">F50<i> × </i>50</span></div>
<div class="c d" style="left:483.5px;top:707.27px;width:53.75px;height:26.22px;line-height:26.22px"><span style="">50</span></div>
<div class="c d" style="left:537.25px;top:707.27px;width:53.75px;height:26.22px;line-height:26.22px"><span style="">50</span></div>
<div class="c d" style="left:591px;top:707.27px;width:53.75px;height:26.22px;line-height:26.22px"><span style="">2.5</span></div>
<div class="c d" style="left:644.75px;top:707.27px;width:53.75px;height:26.22px;line-height:26.22px"><span style="">1.283</span></div>
<div class="c d" style="left:429.75px;top:733.48px;width:53.75px;height:26.22px;line-height:26.22px"><span style="">F50<i> × </i>50</span></div>
<div class="c d" style="left:483.5px;top:733.48px;width:53.75px;height:26.22px;line-height:26.22px"><span style="">50</span></div>
<div class="c d" style="left:537.25px;top:733.48px;width:53.75px;height:26.22px;line-height:26.22px"><span style="">50</span></div>
<div class="c d" style="left:591px;top:733.48px;width:53.75px;height:26.22px;line-height:26.22px"><span style="">1.2</span></div>
<div class="c d" style="left:644.75px;top:733.48px;width:53.75px;height:26.22px;line-height:26.22px"><span style="">0.633</span></div>
<div class="c d" style="left:429.75px;top:759.7px;width:53.75px;height:26.22px;line-height:26.22px"><span style="">F60<i> × </i>40</span></div>
<div class="c d" style="left:483.5px;top:759.7px;width:53.75px;height:26.22px;line-height:26.22px"><span style="">60</span></div>
<div class="c d" style="left:537.25px;top:759.7px;width:53.75px;height:26.22px;line-height:26.22px"><span style="">40</span></div>
<div class="c d" style="left:591px;top:759.7px;width:53.75px;height:26.22px;line-height:26.22px"><span style="">5.0</span></div>
<div class="c d" style="left:644.75px;top:759.7px;width:53.75px;height:26.22px;line-height:26.22px"><span style="">2.457</span></div>
<div class="c d" style="left:429.75px;top:785.91px;width:53.75px;height:26.22px;line-height:26.22px"><span style="">F76<i> × </i>23</span></div>
<div class="c d" style="left:483.5px;top:785.91px;width:53.75px;height:26.22px;line-height:26.22px"><span style="">76</span></div>
<div class="c d" style="left:537.25px;top:785.91px;width:53.75px;height:26.22px;line-height:26.22px"><span style="">23</span></div>
<div class="c d" style="left:591px;top:785.91px;width:53.75px;height:26.22px;line-height:26.22px"><span style="">0.8</span></div>
<div class="c d" style="left:644.75px;top:785.91px;width:53.75px;height:26.22px;line-height:26.22px"><span style="">0.421</span></div>
<div class="c d" style="left:429.75px;top:812.13px;width:53.75px;height:26.22px;line-height:26.22px"><span style="">F76<i> × </i>23</span></div>
<div class="c d" style="left:483.5px;top:812.13px;width:53.75px;height:26.22px;line-height:26.22px"><span style="">76</span></div>
<div class="c d" style="left:537.25px;top:812.13px;width:53.75px;height:26.22px;line-height:26.22px"><span style="">23</span></div>
<div class="c d" style="left:591px;top:812.13px;width:53.75px;height:26.22px;line-height:26.22px"><span style="">1.0</span></div>
<div class="c d" style="left:644.75px;top:812.13px;width:53.75px;height:26.22px;line-height:26.22px"><span style="">0.526</span></div>
<div class="c d" style="left:429.75px;top:838.34px;width:53.75px;height:26.22px;line-height:26.22px"><span style="">F76<i> × </i>23</span></div>
<div class="c d" style="left:483.5px;top:838.34px;width:53.75px;height:26.22px;line-height:26.22px"><span style="">76</span></div>
<div class="c d" style="left:537.25px;top:838.34px;width:53.75px;height:26.22px;line-height:26.22px"><span style="">23</span></div>
<div class="c d" style="left:591px;top:838.34px;width:53.75px;height:26.22px;line-height:26.22px"><span style="">1.2</span></div>
<div class="c d" style="left:644.75px;top:838.34px;width:53.75px;height:26.22px;line-height:26.22px"><span style="">0.628</span></div>
<div class="c d" style="left:429.75px;top:864.56px;width:53.75px;height:26.22px;line-height:26.22px"><span style="">F76<i> × </i>44</span></div>
<div class="c d" style="left:483.5px;top:864.56px;width:53.75px;height:26.22px;line-height:26.22px"><span style="">76</span></div>
<div class="c d" style="left:537.25px;top:864.56px;width:53.75px;height:26.22px;line-height:26.22px"><span style="">44</span></div>
<div class="c d" style="left:591px;top:864.56px;width:53.75px;height:26.22px;line-height:26.22px"><span style="">0.8</span></div>
<div class="c d" style="left:644.75px;top:864.56px;width:53.75px;height:26.22px;line-height:26.22px"><span style="">0.638</span></div>
<div class="c d" style="left:429.75px;top:890.77px;width:53.75px;height:26.22px;line-height:26.22px"><span style="">F76<i> × </i>44</span></div>
<div class="c d" style="left:483.5px;top:890.77px;width:53.75px;height:26.22px;line-height:26.22px"><span style="">76</span></div>
<div class="c d" style="left:537.25px;top:890.77px;width:53.75px;height:26.22px;line-height:26.22px"><span style="">44</span></div>
<div class="c d" style="left:591px;top:890.77px;width:53.75px;height:26.22px;line-height:26.22px"><span style="">1.0</span></div>
<div class="c d" style="left:644.75px;top:890.77px;width:53.75px;height:26.22px;line-height:26.22px"><span style="left:-2.9px;">0.64</span></div>
<div class="c d" style="left:429.75px;top:916.99px;width:53.75px;height:26.22px;line-height:26.22px"><span style="">F76<i> × </i>44</span></div>
<div class="c d" style="left:483.5px;top:916.99px;width:53.75px;height:26.22px;line-height:26.22px"><span style="">76</span></div>
<div class="c d" style="left:537.25px;top:916.99px;width:53.75px;height:26.22px;line-height:26.22px"><span style="">44</span></div>
<div class="c d" style="left:591px;top:916.99px;width:53.75px;height:26.22px;line-height:26.22px"><span style="">1.2</span></div>
<div class="c d" style="left:644.75px;top:916.99px;width:53.75px;height:26.22px;line-height:26.22px"><span style="">0.765</span></div>
<div class="c d" style="left:429.75px;top:943.2px;width:53.75px;height:26.22px;line-height:26.22px"><span style="">F76<i> × </i>44</span></div>
<div class="c d" style="left:483.5px;top:943.2px;width:53.75px;height:26.22px;line-height:26.22px"><span style="">76</span></div>
<div class="c d" style="left:537.25px;top:943.2px;width:53.75px;height:26.22px;line-height:26.22px"><span style="">44</span></div>
<div class="c d" style="left:591px;top:943.2px;width:53.75px;height:26.22px;line-height:26.22px"><span style="">1.5</span></div>
<div class="c d" style="left:644.75px;top:943.2px;width:53.75px;height:26.22px;line-height:26.22px"><span style="">1.146</span></div>
<div class="c d" style="left:429.75px;top:969.42px;width:53.75px;height:26.22px;line-height:26.22px"><span style="">F76<i> × </i>44</span></div>
<div class="c d" style="left:483.5px;top:969.42px;width:53.75px;height:26.22px;line-height:26.22px"><span style="">76</span></div>
<div class="c d" style="left:537.25px;top:969.42px;width:53.75px;height:26.22px;line-height:26.22px"><span style="">44</span></div>
<div class="c d" style="left:591px;top:969.42px;width:53.75px;height:26.22px;line-height:26.22px"><span style="">1.7</span></div>
<div class="c d" style="left:644.75px;top:969.42px;width:53.75px;height:26.22px;line-height:26.22px"><span style="">1.069</span></div>
</body>
</html>
